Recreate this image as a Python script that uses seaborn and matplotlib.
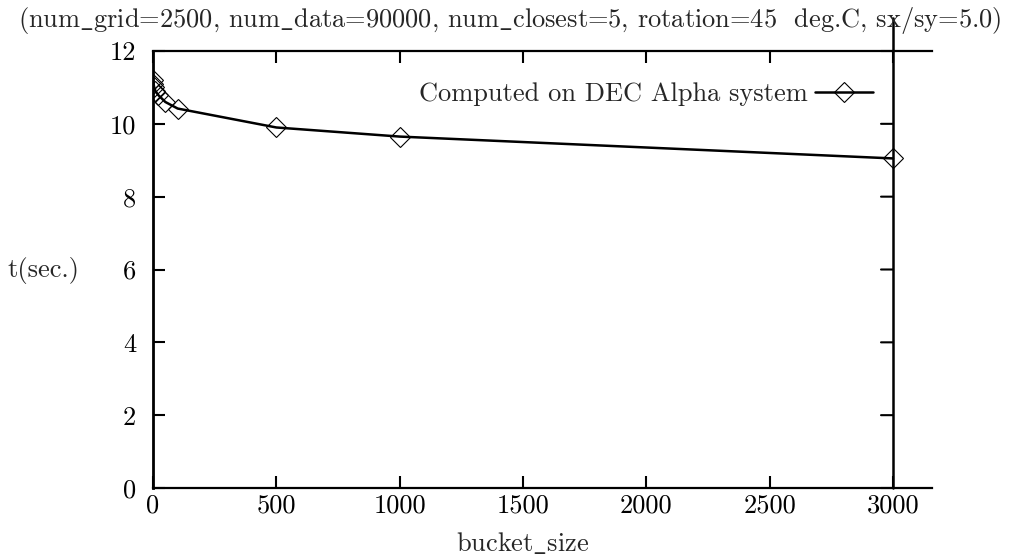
import matplotlib
matplotlib.use("Agg")
import matplotlib.pyplot as plt
import seaborn as sns
import pandas as pd

# data
bucket_size = [1, 2, 5, 10, 20, 50, 100, 500, 1000, 3000]
t_sec = [11.2, 11.1, 11.0, 10.9, 10.8, 10.6, 10.42, 9.9, 9.65, 9.05]
x_ticks = [0, 500, 1000, 1500, 2000, 2500, 3000]
y_ticks = [0, 2, 4, 6, 8, 10, 12]
series_label = "Computed on DEC Alpha system"
title = r"(num$\_$grid=2500, num$\_$data=90000, num$\_$closest=5, rotation=45  deg.C, sx/sy=5.0)"
x_label = r"bucket$\_$size"
y_label = "t(sec.)"

df = pd.DataFrame({"bucket_size": bucket_size, "t": t_sec})

sns.set_theme(style="white")
plt.rcParams["font.family"] = ["cmr10", "DejaVu Serif"]
plt.rcParams["mathtext.fontset"] = "cm"
plt.rcParams["axes.unicode_minus"] = False

fs = 19
fig = plt.figure(figsize=(10.11, 5.56), dpi=100)
ax = fig.add_axes([153/1011, 1-488/556, (932-153)/1011, (488-51)/556])

sns.lineplot(data=df, x="bucket_size", y="t", ax=ax, color="black", lw=1.8,
             marker="D", markersize=10, markerfacecolor="none",
             markeredgecolor="black", markeredgewidth=0.8, label=series_label)

ax.set_xlim(0, 3158)
ax.set_ylim(0, 12)
ax.set_xticks(x_ticks)
ax.set_yticks(y_ticks)
ax.set_xticklabels([str(v) for v in x_ticks], fontsize=fs)
ax.set_yticklabels([str(v) for v in y_ticks], fontsize=fs)
ax.tick_params(axis="both", direction="in", length=8.6, width=1.5, colors="black",
               top=True, bottom=True, left=True, right=False)
ax.tick_params(axis="x", pad=4)
ax.tick_params(axis="y", pad=12)

for s in ["left", "top", "bottom"]:
    ax.spines[s].set_visible(True)
    ax.spines[s].set_color("black")
    ax.spines[s].set_linewidth(1.6)
ax.spines["left"].set_linewidth(2.0)
ax.spines["right"].set_visible(False)

# vertical line at the last tick, extending above the frame
ax.plot([x_ticks[-1], x_ticks[-1]], [0, 12.9], color="black", lw=1.8, clip_on=False)
# inward ticks on that line
for yv in y_ticks:
    ax.annotate("", xy=(x_ticks[-1], yv), xytext=(-12, 0), textcoords="offset pixels",
                arrowprops=dict(arrowstyle="-", lw=1.5, color="black", shrinkA=0, shrinkB=0))

ax.set_xlabel(x_label, fontsize=fs)
ax.xaxis.set_label_coords((523-153)/779, (488-551)/437)
ax.xaxis.label.set_va("baseline")
ax.set_ylabel(y_label, fontsize=fs, rotation=0)
ax.yaxis.set_label_coords(-(153-43)/779, (488-270)/437)
ax.yaxis.label.set_ha("center")
ax.yaxis.label.set_va("center")

fig.text(510/1011, 1-20/556, title, fontsize=fs, ha="center", va="center")

leg = ax.legend(loc="upper right", bbox_to_anchor=((884-153)/779, (488-72)/437),
                frameon=False, markerfirst=False, fontsize=fs, handlelength=2.2,
                borderaxespad=0, handletextpad=0.3)

ax.grid(False)
fig.savefig("out.png", dpi=100, facecolor="white")
